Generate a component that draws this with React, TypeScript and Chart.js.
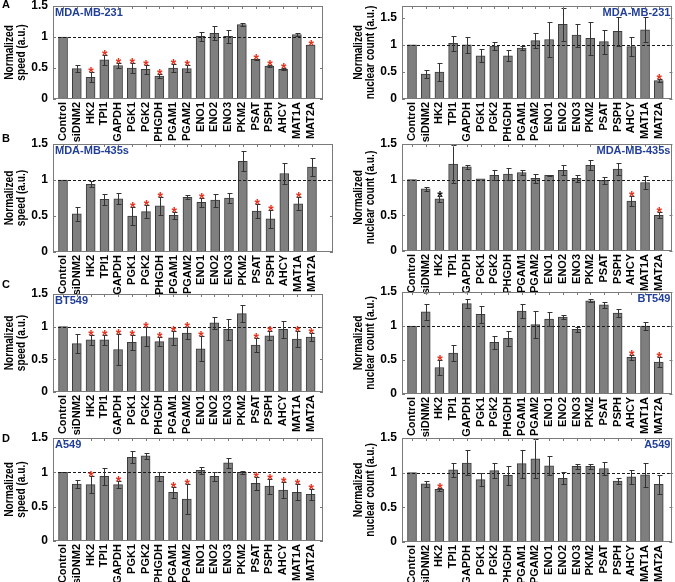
import React, { useEffect, useRef } from 'react';
import { Chart, registerables } from 'chart.js';
Chart.register(...registerables);

const categories = ['Control', 'siDNM2', 'HK2', 'TPI1', 'GAPDH', 'PGK1', 'PGK2', 'PHGDH', 'PGAM1', 'PGAM2', 'ENO1', 'ENO2', 'ENO3', 'PKM2', 'PSAT', 'PSPH', 'AHCY', 'MAT1A', 'MAT2A'];
const yTicks = [0, 0.5, 1, 1.5];
const yTickLabels = ['0', '0.5', '1', '1.5'];
const speedTitle = ['Normalized', 'speed (a.u.)'];
const countTitle = ['Normalized', 'nuclear count (a.u.)'];

// A: MDA-MB-231
const speed231 = [1.0, 0.49, 0.35, 0.63, 0.54, 0.50, 0.48, 0.37, 0.50, 0.49, 1.01, 1.06, 1.01, 1.20, 0.64, 0.53, 0.48, 1.04, 0.87];
const speed231Err = [0, 0.06, 0.08, 0.08, 0.04, 0.08, 0.07, 0.03, 0.06, 0.06, 0.07, 0.11, 0.10, 0.03, 0.01, 0.02, 0.02, 0.02, 0];
const speed231Sig = ['HK2', 'TPI1', 'GAPDH', 'PGK1', 'PGK2', 'PHGDH', 'PGAM1', 'PGAM2', 'PSAT', 'PSPH', 'AHCY', 'MAT2A'];
const count231 = [1.0, 0.46, 0.50, 1.03, 1.00, 0.80, 0.98, 0.80, 0.94, 1.08, 1.10, 1.38, 1.18, 1.12, 1.06, 1.25, 0.97, 1.28, 0.34];
const count231Err = [0, 0.07, 0.16, 0.14, 0.15, 0.12, 0.08, 0.10, 0.04, 0.14, 0.32, 0.30, 0.21, 0.31, 0.22, 0.27, 0.18, 0.23, 0.03];
const count231Sig = ['MAT2A'];

// B: MDA-MB-435s
const speed435 = [1.0, 0.53, 0.94, 0.73, 0.74, 0.50, 0.56, 0.64, 0.51, 0.76, 0.69, 0.72, 0.75, 1.26, 0.57, 0.46, 1.09, 0.67, 1.18];
const speed435Err = [0, 0.10, 0.04, 0.08, 0.08, 0.12, 0.09, 0.12, 0.05, 0.03, 0.06, 0.09, 0.07, 0.14, 0.10, 0.12, 0.15, 0.09, 0.13];
const speed435Sig = ['PGK1', 'PGK2', 'PHGDH', 'PGAM1', 'ENO1', 'PSAT', 'PSPH', 'MAT1A'];
const count435 = [1.0, 0.87, 0.73, 1.22, 1.18, 1.01, 1.06, 1.08, 1.10, 1.02, 1.06, 1.13, 1.02, 1.20, 0.99, 1.15, 0.70, 0.96, 0.50];
const count435Err = [0, 0.03, 0.04, 0.27, 0.03, 0, 0.07, 0.08, 0.04, 0.06, 0.01, 0.07, 0.05, 0.07, 0.05, 0.09, 0.07, 0.09, 0.04];
const count435Sig = ['AHCY', 'MAT2A'];
const count435SigBlack = ['HK2'];

// C: BT549
const speedBT549 = [1.0, 0.74, 0.80, 0.80, 0.65, 0.76, 0.85, 0.77, 0.83, 0.90, 0.66, 1.06, 0.96, 1.20, 0.72, 0.86, 0.96, 0.81, 0.84];
const speedBT549Err = [0, 0.15, 0.08, 0.08, 0.24, 0.12, 0.14, 0.07, 0.11, 0.09, 0.19, 0.09, 0.16, 0.13, 0.11, 0.07, 0.13, 0.12, 0.06];
const speedBT549Sig = ['HK2', 'TPI1', 'GAPDH', 'PGK1', 'PGK2', 'PHGDH', 'PGAM1', 'PGAM2', 'ENO1', 'PSAT', 'PSPH', 'MAT1A', 'MAT2A'];
const countBT549 = [1.0, 1.21, 0.39, 0.60, 1.33, 1.17, 0.76, 0.82, 1.22, 1.02, 1.10, 1.13, 0.95, 1.37, 1.31, 1.19, 0.54, 1.00, 0.47];
const countBT549Err = [0, 0.12, 0.11, 0.12, 0.07, 0.12, 0.10, 0.11, 0.10, 0.20, 0.10, 0.03, 0.04, 0.02, 0.05, 0.06, 0.04, 0.06, 0.08];
const countBT549Sig = ['HK2', 'AHCY', 'MAT2A'];

// D: A549
const speedA549 = [1.0, 0.83, 0.82, 0.94, 0.82, 1.22, 1.24, 0.94, 0.71, 0.61, 1.03, 0.94, 1.14, 1.00, 0.84, 0.80, 0.74, 0.71, 0.68];
const speedA549Err = [0, 0.06, 0.12, 0.12, 0.05, 0.09, 0.04, 0.06, 0.08, 0.22, 0.05, 0.07, 0.07, 0.02, 0.09, 0.11, 0.12, 0.12, 0.08];
const speedA549Sig = ['HK2', 'GAPDH', 'PGAM1', 'PGAM2', 'PSAT', 'PSPH', 'AHCY', 'MAT1A', 'MAT2A'];
const countA549 = [1.0, 0.84, 0.76, 1.04, 1.14, 0.90, 1.03, 0.96, 1.13, 1.20, 1.10, 0.92, 1.09, 1.09, 1.06, 0.88, 0.94, 0.97, 0.83];
const countA549Err = [0, 0.04, 0.02, 0.10, 0.18, 0.09, 0.11, 0.14, 0.20, 0.28, 0.14, 0.09, 0.03, 0.03, 0.09, 0.05, 0.10, 0.17, 0.14];
const countA549Sig = ['HK2'];

const panelLetters = ['A', 'B', 'C', 'D'];

const FONT = "'Liberation Sans', Arial, sans-serif";
const PAD_TOP = 10;
const X_AXIS_H = 45;

type Panel = {
  label: string;
  labelSide: 'left' | 'right';
  title: string[];
  values: number[];
  errors: number[];
  red: string[];
  black: string[];
  col: 0 | 1;
  top: number;
  bottom: number;
  xMin: number;
  xMax: number;
  yMax: number;
  padRight: number;
};

const panels: Panel[] = [
  { label: 'MDA-MB-231', labelSide: 'left', title: speedTitle, values: speed231, errors: speed231Err, red: speed231Sig, black: [], col: 0, top: 5, bottom: 99, xMin: 0.27, xMax: 19.9, yMax: 1.5, padRight: 12 },
  { label: 'MDA-MB-231', labelSide: 'right', title: countTitle, values: count231, errors: count231Err, red: count231Sig, black: [], col: 1, top: 5, bottom: 99, xMin: 0.27, xMax: 20.0, yMax: 1.72, padRight: 1 },
  { label: 'MDA-MB-435s', labelSide: 'left', title: speedTitle, values: speed435, errors: speed435Err, red: speed435Sig, black: [], col: 0, top: 143, bottom: 252, xMin: 0.277, xMax: 20.52, yMax: 1.5, padRight: 2 },
  { label: 'MDA-MB-435s', labelSide: 'right', title: countTitle, values: count435, errors: count435Err, red: count435Sig, black: count435SigBlack, col: 1, top: 143, bottom: 251, xMin: 0.27, xMax: 20.0, yMax: 1.5, padRight: 1 },
  { label: 'BT549', labelSide: 'left', title: speedTitle, values: speedBT549, errors: speedBT549Err, red: speedBT549Sig, black: [], col: 0, top: 293, bottom: 392, xMin: 0.27, xMax: 19.9, yMax: 1.5, padRight: 12 },
  { label: 'BT549', labelSide: 'right', title: countTitle, values: countBT549, errors: countBT549Err, red: countBT549Sig, black: [], col: 1, top: 291, bottom: 394, xMin: 0.27, xMax: 20.0, yMax: 1.5, padRight: 1 },
  { label: 'A549', labelSide: 'left', title: speedTitle, values: speedA549, errors: speedA549Err, red: speedA549Sig, black: [], col: 0, top: 437, bottom: 541, xMin: 0.27, xMax: 19.9, yMax: 1.5, padRight: 12 },
  { label: 'A549', labelSide: 'right', title: countTitle, values: countA549, errors: countA549Err, red: countA549Sig, black: [], col: 1, top: 437, bottom: 542, xMin: 0.27, xMax: 20.0, yMax: 1.5, padRight: 1 },
];

const letterTops = [4, 138, 284, 438];

function makeDecor(p: Panel) {
  return {
    id: 'decor',
    afterDatasetsDraw(chart: any) {
      const { ctx, chartArea: a } = chart;
      const x = chart.scales.x;
      const y = chart.scales.y;
      ctx.save();
      // reference dashed line at 1
      const y1 = Math.round(y.getPixelForValue(1)) + 0.5;
      ctx.strokeStyle = '#1a1a1a';
      ctx.lineWidth = 1;
      ctx.setLineDash([3, 2]);
      ctx.beginPath();
      ctx.moveTo(a.left, y1);
      ctx.lineTo(a.right, y1);
      ctx.stroke();
      ctx.setLineDash([]);
      // error bars
      ctx.strokeStyle = '#333333';
      p.values.forEach((v, i) => {
        const e = p.errors[i];
        if (!e) return;
        const cx = Math.round(x.getPixelForValue(i + 1)) + 0.5;
        const yt = Math.round(y.getPixelForValue(v + e)) + 0.5;
        const yb = Math.round(y.getPixelForValue(v - e)) + 0.5;
        ctx.beginPath();
        ctx.moveTo(cx, yt);
        ctx.lineTo(cx, yb);
        ctx.moveTo(cx - 2, yt);
        ctx.lineTo(cx + 3, yt);
        ctx.moveTo(cx - 2, yb);
        ctx.lineTo(cx + 3, yb);
        ctx.stroke();
      });
      // significance stars
      ctx.font = `bold 14px ${FONT}`;
      ctx.textAlign = 'center';
      ctx.textBaseline = 'alphabetic';
      p.values.forEach((v, i) => {
        const name = categories[i];
        const isRed = p.red.includes(name);
        const isBlack = p.black.includes(name);
        if (!isRed && !isBlack) return;
        const cx = x.getPixelForValue(i + 1);
        const top = y.getPixelForValue(v + (p.errors[i] || 0));
        ctx.fillStyle = isRed ? '#e5321f' : '#111111';
        ctx.fillText('*', cx + 0.5, top + 5);
      });
      // box
      ctx.strokeStyle = '#7a7a7a';
      ctx.lineWidth = 1;
      ctx.strokeRect(Math.round(a.left) + 0.5, Math.round(a.top) + 0.5, Math.round(a.width) - 1, Math.round(a.height) - 1);
      // inner tick marks
      ctx.beginPath();
      categories.forEach((_, i) => {
        const cx = Math.round(x.getPixelForValue(i + 1)) + 0.5;
        ctx.moveTo(cx, a.bottom);
        ctx.lineTo(cx, a.bottom - 3);
        ctx.moveTo(cx, a.top);
        ctx.lineTo(cx, a.top + 3);
      });
      yTicks.forEach((t) => {
        if (t > p.yMax) return;
        const ty = Math.round(y.getPixelForValue(t)) + 0.5;
        ctx.moveTo(a.left, ty);
        ctx.lineTo(a.left + 3, ty);
        ctx.moveTo(a.right, ty);
        ctx.lineTo(a.right - 3, ty);
      });
      ctx.stroke();
      // cell line label
      ctx.fillStyle = '#223f98';
      ctx.font = `bold 11px ${FONT}`;
      ctx.textBaseline = 'middle';
      if (p.labelSide === 'left') {
        ctx.textAlign = 'left';
        ctx.fillText(p.label, a.left + 2, a.top + 7);
      } else {
        ctx.textAlign = 'right';
        ctx.fillText(p.label, a.right - 2, a.top + 7);
      }
      // y-axis title (two rotated lines, slightly condensed)
      const titleX0 = p.col === 0 ? 9 : 23;
      const cy = (a.top + a.bottom) / 2;
      ctx.fillStyle = '#000';
      ctx.font = `bold 13px ${FONT}`;
      ctx.textAlign = 'center';
      ctx.textBaseline = 'middle';
      p.title.forEach((line, k) => {
        ctx.save();
        ctx.translate(titleX0 + k * 12.5, cy);
        ctx.rotate(-Math.PI / 2);
        ctx.scale(0.78, 1);
        ctx.fillText(line, 0, 0);
        ctx.restore();
      });
      ctx.restore();
    },
  };
}

function PanelChart({ p }: { p: Panel }) {
  const ref = useRef<HTMLCanvasElement | null>(null);
  const canvasLeft = p.col === 0 ? 0 : 335;
  const canvasWidth = p.col === 0 ? 335 : 340;
  const yAxisW = p.col === 0 ? 53 : 67;
  const canvasTop = p.top - PAD_TOP;
  const canvasHeight = PAD_TOP + (p.bottom - p.top) + X_AXIS_H;

  useEffect(() => {
    if (!ref.current) return;
    const chart = new Chart(ref.current, {
      type: 'bar',
      data: {
        datasets: [
          {
            data: p.values.map((v, i) => ({ x: i + 1, y: v })),
            backgroundColor: '#7f7f7f',
            borderColor: '#3c3c3c',
            borderWidth: 1,
            barThickness: 9,
          } as any,
        ],
      },
      options: {
        animation: false,
        responsive: false,
        maintainAspectRatio: false,
        layout: { padding: { top: PAD_TOP, right: p.padRight, left: 0, bottom: 0 } },
        plugins: { legend: { display: false }, tooltip: { enabled: false }, title: { display: false } },
        scales: {
          x: {
            type: 'linear',
            min: p.xMin,
            max: p.xMax,
            offset: false,
            grid: { display: false, drawTicks: false },
            border: { display: false },
            afterBuildTicks: (s: any) => {
              s.ticks = categories.map((_, i) => ({ value: i + 1 }));
            },
            afterFit: (s: any) => {
              s.height = X_AXIS_H;
            },
            ticks: {
              autoSkip: false,
              minRotation: 90,
              maxRotation: 90,
              padding: 3,
              color: '#000',
              font: { family: FONT, size: 11, weight: 'bold' },
              callback: (_v: any, i: number) => categories[i],
            },
          },
          y: {
            type: 'linear',
            min: 0,
            max: p.yMax,
            grid: { display: false, drawTicks: false },
            border: { display: false },
            afterBuildTicks: (s: any) => {
              s.ticks = yTicks.filter((t) => t <= p.yMax + 1e-9).map((t) => ({ value: t }));
            },
            afterFit: (s: any) => {
              s.width = yAxisW;
            },
            ticks: {
              padding: 5,
              color: '#000',
              font: { family: FONT, size: 12, weight: 'bold', lineHeight: 1 },
              callback: (v: any) => {
                const k = yTicks.findIndex((t) => Math.abs(t - Number(v)) < 1e-9);
                return k >= 0 ? yTickLabels[k] : '';
              },
            },
            title: { display: false },
          },
        },
      } as any,
      plugins: [makeDecor(p)],
    });
    return () => chart.destroy();
  }, []);

  return (
    <canvas
      ref={ref}
      width={canvasWidth}
      height={canvasHeight}
      style={{ position: 'absolute', left: canvasLeft, top: canvasTop, width: canvasWidth, height: canvasHeight }}
    />
  );
}

export default function App() {
  return (
    <div style={{ position: 'absolute', left: 0, top: 0, width: 675, height: 582, overflow: 'hidden', background: '#fff' }}>
      {panels.map((p, i) => (
        <PanelChart key={i} p={p} />
      ))}
      {panelLetters.map((l, i) => (
        <div
          key={l}
          style={{
            position: 'absolute',
            left: 2,
            top: letterTops[i] - 6,
            font: `bold 11px ${FONT}`,
            lineHeight: '12px',
            color: '#000',
          }}
        >
          {l}
        </div>
      ))}
    </div>
  );
}
